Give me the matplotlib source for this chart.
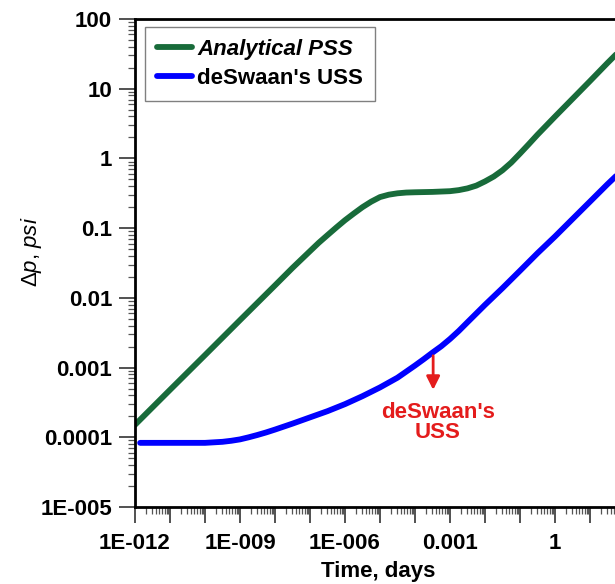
import numpy as np
import matplotlib.pyplot as plt
from matplotlib.ticker import LogLocator, FixedLocator, FixedFormatter, NullFormatter

# ---------- data ----------
t_pss = [1e-12, 1e-11, 1e-10, 1e-9, 1e-8, 3.16e-8, 1e-7, 1.78e-7, 3.16e-7, 5.62e-7,
         1e-6, 1.78e-6, 3.16e-6, 5.62e-6, 1e-5, 1.78e-5, 3.16e-5, 5.62e-5,
         1e-4, 3.16e-4, 1e-3, 1.78e-3, 3.16e-3, 5.62e-3, 1e-2, 1.78e-2, 3.16e-2,
         5.62e-2, 0.1, 0.178, 0.316, 0.562, 1, 3.16, 10, 31.6, 100]
dp_pss = [1.51e-4, 4.79e-4, 1.51e-3, 4.79e-3, 0.0151, 0.0269, 0.0468, 0.0617, 0.0794, 0.102,
          0.130, 0.162, 0.200, 0.240, 0.279, 0.302, 0.316, 0.324,
          0.327, 0.331, 0.339, 0.351, 0.372, 0.407, 0.468, 0.550, 0.676,
          0.871, 1.175, 1.60, 2.19, 2.95, 3.98, 7.16, 12.9, 23.4, 41.7]

t_uss = [1.4e-12, 1e-11, 1e-10, 3.16e-10, 5.62e-10, 1e-9, 1.78e-9, 3.16e-9, 5.62e-9,
         1e-8, 3.16e-8, 1e-7, 3.16e-7, 1e-6, 3.16e-6, 1e-5, 3.16e-5, 1e-4, 1.78e-4,
         3.16e-4, 5.62e-4, 1e-3, 1.78e-3, 3.16e-3, 1e-2, 3.16e-2, 0.1, 0.316,
         1, 3.16, 10, 31.6, 100]
dp_uss = [8.32e-5, 8.32e-5, 8.32e-5, 8.61e-5, 8.91e-5, 9.33e-5, 1.0e-4, 1.08e-4, 1.175e-4,
          1.29e-4, 1.57e-4, 1.93e-4, 2.37e-4, 2.99e-4, 3.89e-4, 5.19e-4, 7.16e-4, 1.07e-3, 1.32e-3,
          1.64e-3, 2.02e-3, 2.57e-3, 3.35e-3, 4.47e-3, 7.94e-3, 0.0138, 0.0245, 0.0437,
          0.0759, 0.135, 0.240, 0.427, 0.741]

x_ticks = [1e-12, 1e-11, 1e-10, 1e-9, 1e-8, 1e-7, 1e-6, 1e-5, 1e-4, 1e-3,
           1e-2, 1e-1, 1, 10, 100, 1000]
x_labels = ['1E-012', '', '', '1E-009', '', '', '1E-006', '', '', '0.001',
            '', '', '1', '', '', '']
y_ticks = [1e-5, 1e-4, 1e-3, 1e-2, 1e-1, 1, 10, 100]
y_labels = ['1E-005', '0.0001', '0.001', '0.01', '0.1', '1', '10', '100']

plt.rcParams['font.family'] = ['Liberation Sans', 'DejaVu Sans']
plt.rcParams['mathtext.fontset'] = 'custom'
plt.rcParams['mathtext.rm'] = 'Liberation Sans'
plt.rcParams['mathtext.it'] = 'Liberation Sans:italic'

fig = plt.figure(figsize=(6.15, 5.84), dpi=100)
# axes runs past the right edge of the figure (reference is cropped there)
ax = fig.add_axes([135 / 615, 77 / 584, 525 / 615, 488 / 584])

ax.plot(t_pss, dp_pss, color='#186b3a', lw=4.2, solid_capstyle='round',
        solid_joinstyle='round', label='Analytical PSS')
ax.plot(t_uss, dp_uss, color='#0000ff', lw=4.2, solid_capstyle='round',
        solid_joinstyle='round', label="deSwaan's USS")

ax.set_xscale('log')
ax.set_yscale('log')
ax.set_xlim(1e-12, 1e3)
ax.set_ylim(1e-5, 1e2)

ax.xaxis.set_major_locator(FixedLocator(x_ticks))
ax.xaxis.set_major_formatter(FixedFormatter(x_labels))
ax.xaxis.set_minor_locator(LogLocator(base=10, subs=np.arange(2, 10), numticks=30))
ax.xaxis.set_minor_formatter(NullFormatter())
ax.yaxis.set_major_locator(FixedLocator(y_ticks))
ax.yaxis.set_major_formatter(FixedFormatter(y_labels))
ax.yaxis.set_minor_locator(LogLocator(base=10, subs=np.arange(2, 10), numticks=30))
ax.yaxis.set_minor_formatter(NullFormatter())
for lab in ax.get_xticklabels() + ax.get_yticklabels():
    lab.set_fontsize(16)
    lab.set_fontweight('bold')

ax.tick_params(which='major', direction='out', length=11.5, width=1.2, color='#333333')
ax.tick_params(which='minor', direction='out', length=5, width=0.9, color='#555555')
ax.tick_params(axis='y', which='major', pad=5)
ax.tick_params(axis='x', which='major', pad=7)

for side in ['left', 'bottom', 'top']:
    ax.spines[side].set_linewidth(2)
ax.spines['right'].set_visible(False)

fig.text(378 / 615, 1 - 572 / 584, 'Time, days', ha='center', va='center',
         fontsize=16, fontweight='bold')
fig.text(32 / 615, 1 - 252 / 584, r'$\Delta\mathit{p}$, $\mathit{psi}$',
         rotation=90, ha='center', va='center', fontsize=16)

leg = ax.legend(loc='upper left', bbox_to_anchor=(10 / 525, 1 - 8 / 488),
                borderaxespad=0, fontsize=16, handlelength=1.55,
                handletextpad=0.25, borderpad=0.55, labelspacing=0.35,
                fancybox=False, framealpha=1)
leg.get_frame().set_edgecolor('#808080')
leg.get_frame().set_linewidth(1.0)
for txt in leg.get_texts():
    txt.set_fontweight('bold')
leg.get_texts()[0].set_fontstyle('italic')

ax.annotate('', xy=(3.3e-4, 4.37e-4), xytext=(3.3e-4, 1.62e-3),
            arrowprops=dict(arrowstyle='-|>', color='#e41c1c', lw=2,
                            mutation_scale=20))
ax.text(4.5e-4, 1.64e-4, "deSwaan's\nUSS", color='#e41c1c', ha='center',
        va='center', fontsize=16, fontweight='bold', linespacing=0.95)

fig.savefig('out.png', dpi=100)
